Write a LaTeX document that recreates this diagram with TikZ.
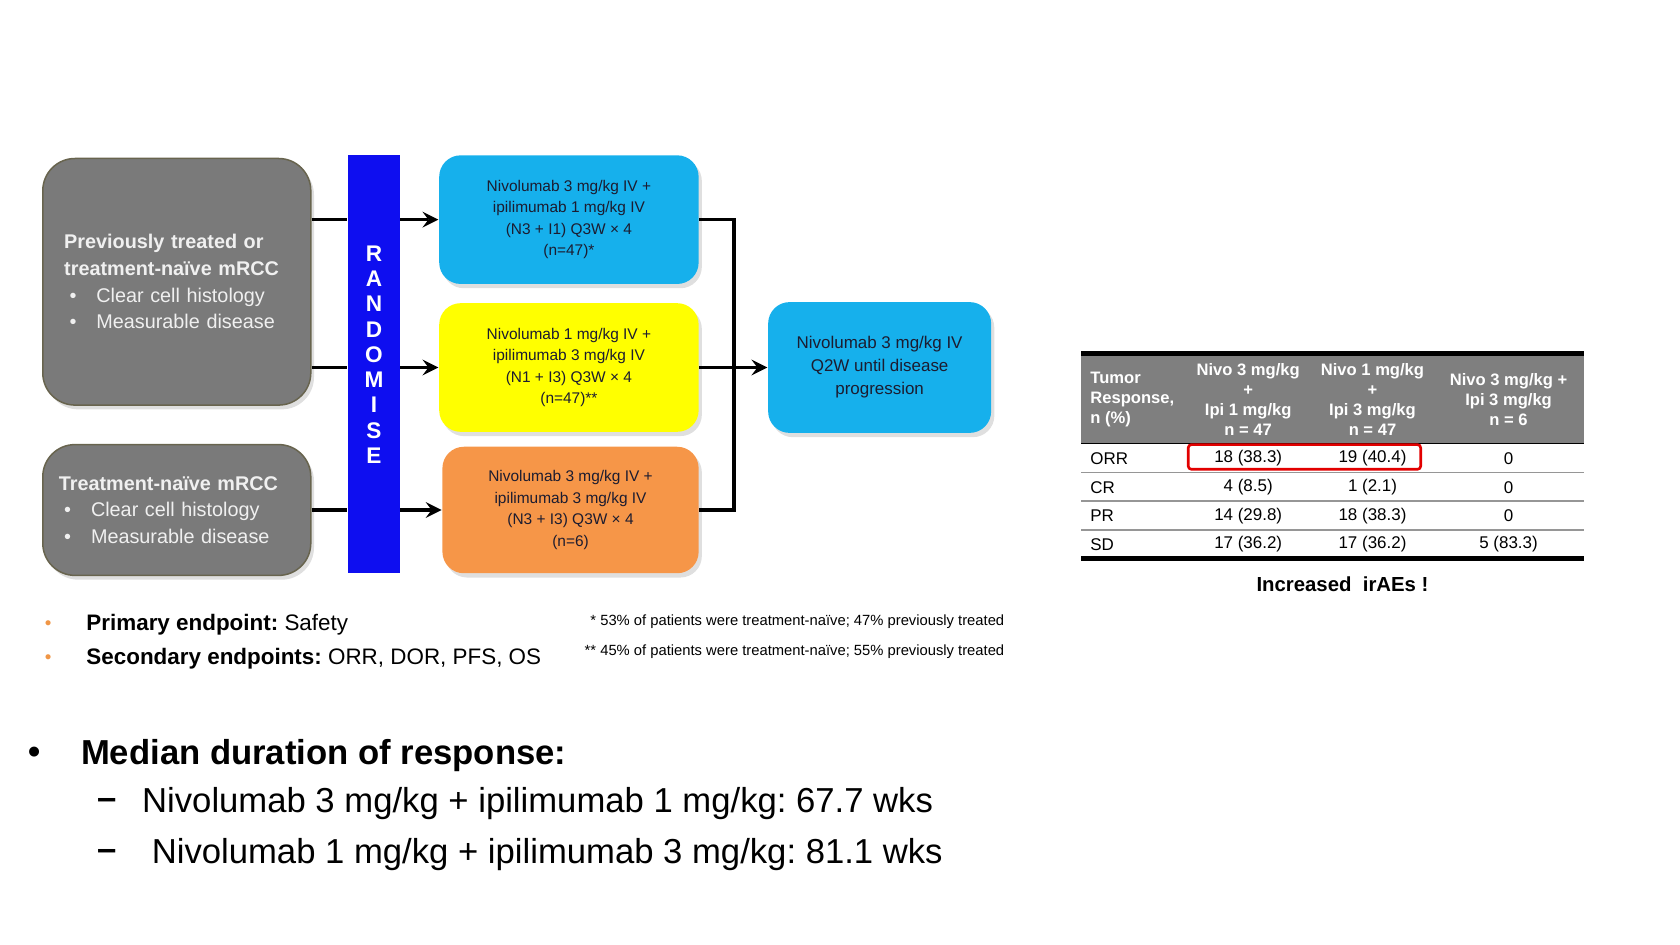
\documentclass[tikz,border=0pt]{standalone}
\usepackage{fontspec}
\setmainfont{Liberation Sans}
\usepackage{tikz}
\usetikzlibrary{arrows.meta,positioning,shadows}
\definecolor{boxgray}{RGB}{122,122,122}
\definecolor{boxedge}{RGB}{104,100,78}
\definecolor{boxtext}{RGB}{240,240,240}
\definecolor{randblue}{RGB}{14,14,240}
\definecolor{armblue}{RGB}{22,176,236}
\definecolor{armyellow}{RGB}{255,255,0}
\definecolor{armorange}{RGB}{246,150,72}
\definecolor{armtext}{RGB}{28,28,48}
\definecolor{hdrgray}{RGB}{127,127,127}
\definecolor{sepgray}{RGB}{150,150,150}
\definecolor{orrred}{RGB}{226,0,0}
\definecolor{bulorange}{RGB}{240,150,70}
\frenchspacing

\begin{document}
\begin{tikzpicture}[
		x=0.01cm, y=-0.01cm,
		patient/.style={rectangle, rounded corners=0.3cm, draw=boxedge, line width=0.4pt, fill=boxgray, text=boxtext, minimum width=2.5cm, align=left, inner sep=0pt, font=\fontsize{5.26}{7.1}\selectfont, drop shadow={shadow xshift=0.03cm, shadow yshift=-0.04cm, opacity=0.25}},
		arm/.style={rectangle, rounded corners=0.2cm, minimum width=2.42cm, minimum height=1.2cm, inner sep=0pt, align=center, text=armtext, font=\fontsize{4.1}{5.7}\selectfont, drop shadow={shadow xshift=0.03cm, shadow yshift=-0.04cm, opacity=0.25}},
		link/.style={line width=0.85pt},
		hdr/.style={text=white, inner sep=0pt, align=center, font=\bfseries\fontsize{4.4}{5.3}\selectfont},
		cell/.style={inner sep=0pt, font=\fontsize{4.5}{5}\selectfont},
		>=stealth
		]
	
		\useasboundingbox (0,0) rectangle (1568,882);
	
		% Patienten
		\node[patient, minimum height=2.3cm, text width=2.1cm] (pt1) at (165,263) {\textbf{Previously treated or}\\\textbf{treatment-naïve mRCC}\\\hspace*{0.05cm}\makebox[0.25cm][l]{\textbullet}Clear cell histology\\\hspace*{0.05cm}\makebox[0.25cm][l]{\textbullet}Measurable disease};
		\node[patient, minimum height=1.22cm, text width=2.2cm] (pt2) at (165,476) {\textbf{Treatment-naïve mRCC}\\\hspace*{0.05cm}\makebox[0.25cm][l]{\textbullet}Clear cell histology\\\hspace*{0.05cm}\makebox[0.25cm][l]{\textbullet}Measurable disease};
	
		% Randomisation
		\node[rectangle, fill=randblue, minimum width=0.48cm, minimum height=3.9cm, inner sep=0pt] (rnd) at (349,340) {};
		\node[text=white, align=center, inner sep=0pt, font=\bfseries\fontsize{6}{6.7}\selectfont] (rndlbl) at ([yshift=0.09cm]rnd.center) {R\\A\\N\\D\\O\\M\\I\\S\\E};
	
		% Arme
		\node[arm, fill=armblue] (armA) at (531,205) {Nivolumab 3 mg/kg IV +\\ipilimumab 1 mg/kg IV\\(N3 + I1) Q3W × 4\\(n=47)*};
		\node[arm, fill=armyellow] (armB) at (531,343) {Nivolumab 1 mg/kg IV +\\ipilimumab 3 mg/kg IV\\(N1 + I3) Q3W × 4\\(n=47)**};
		\node[arm, fill=armorange, minimum width=2.39cm, minimum height=1.18cm] (armC) at (532.5,476) {Nivolumab 3 mg/kg IV +\\ipilimumab 3 mg/kg IV\\(N3 + I3) Q3W × 4\\(n=6)};
		\node[arm, fill=armblue, minimum width=2.08cm, minimum height=1.22cm, font=\fontsize{4.5}{6.1}\selectfont] (maint) at (821,343) {Nivolumab 3 mg/kg IV\\Q2W until disease\\progression};
	
		% Pfeile
		\draw[link] (pt1.east |- armA.west) -- (rnd.west |- armA.west);
		\draw[link, ->] (rnd.east |- armA.west) -- (armA.west);
		\draw[link] (pt1.east |- armB.west) -- (rnd.west |- armB.west);
		\draw[link, ->] (rnd.east |- armB.west) -- (armB.west);
		\draw[link] (pt2.east |- armC.west) -- (rnd.west |- armC.west);
		\draw[link, ->] (rnd.east |- armC.west) -- (armC.west);
		\coordinate (join) at (685,343);
		\draw[link] (armA.east) -| (join) |- (armC.east);
		\draw[link, ->] (armB.east) -- (maint.west);
	
		% Endpunkte
		\node[text=bulorange, font=\fontsize{5}{6}\selectfont] (bul1) at (45,583) {•};
		\node[text=bulorange, font=\fontsize{5}{6}\selectfont] (bul2) at (45,615) {•};
		\node[anchor=west, inner sep=0pt, font=\fontsize{5.95}{7}\selectfont] (ep1) at (80,583) {\textbf{Primary endpoint:} Safety};
		\node[anchor=west, inner sep=0pt, font=\fontsize{5.95}{7}\selectfont] (ep2) at (80,615) {\textbf{Secondary endpoints:} ORR, DOR, PFS, OS};
		\node[anchor=east, inner sep=0pt, font=\fontsize{3.92}{4.5}\selectfont] (fn1) at (938,580) {* 53\% of patients were treatment-naïve; 47\% previously treated};
		\node[anchor=east, inner sep=0pt, font=\fontsize{3.92}{4.5}\selectfont] (fn2) at (938,608) {** 45\% of patients were treatment-naïve; 55\% previously treated};
	
		% Dauer des Ansprechens
		\node[font=\bfseries\fontsize{9.2}{11}\selectfont] (bul3) at (32,705) {•};
		\node[anchor=west, inner sep=0pt, font=\bfseries\fontsize{9.2}{11}\selectfont] (dor) at (75,705) {Median duration of response:};
		\node[font=\bfseries\fontsize{9.2}{11}\selectfont] (dash1) at (100,750) {–};
		\node[anchor=west, inner sep=0pt, font=\fontsize{9.2}{11}\selectfont] (dor1) at (132,750) {Nivolumab 3 mg/kg + ipilimumab 1 mg/kg: 67.7 wks};
		\node[font=\bfseries\fontsize{9.2}{11}\selectfont] (dash2) at (100,798) {–};
		\node[anchor=west, inner sep=0pt, font=\fontsize{9.2}{11}\selectfont] (dor2) at (141,798) {Nivolumab 1 mg/kg + ipilimumab 3 mg/kg: 81.1 wks};
	
		% Tabelle
		\fill[hdrgray] (1009,332) rectangle (1478,414);
		\draw[line width=1.2pt] (1009,330) -- (1478,330);
		\draw[line width=0.4pt] (1009,414) -- (1478,414);
		\foreach \y in {441,468,495}
			\draw[sepgray, line width=0.5pt] (1009,\y) -- (1478,\y);
		\draw[line width=1.4pt] (1009,521) -- (1478,521);
	
		\node[hdr, anchor=west, align=left] (hresp) at (1017,373) {Tumor\\Response,\\n (\%)};
		\node[hdr] (hA) at (1165,373) {Nivo 3 mg/kg\\+\\Ipi 1 mg/kg\\n = 47};
		\node[hdr] (hB) at (1281,373) {Nivo 1 mg/kg\\+\\Ipi 3 mg/kg\\n = 47};
		\node[hdr] (hC) at (1408,373) {Nivo 3 mg/kg +\\Ipi 3 mg/kg\\n = 6};
	
		\foreach \lab/\va/\vb/\vc [count=\i] in {ORR/18 (38.3)/19 (40.4)/0, CR/4 (8.5)/1 (2.1)/0, PR/14 (29.8)/18 (38.3)/0, SD/17 (36.2)/17 (36.2)/5 (83.3)} {
			\pgfmathsetmacro{\ry}{428+(\i-1)*26.7}
			\node[cell, anchor=west] (lab\i) at (1017,\ry) {\lab};
			\node[cell] (a\i) at (1165,\ry) {\va};
			\node[cell] (b\i) at (1281,\ry) {\vb};
			\node[cell] (c\i) at (1408,\ry) {\vc};
		}
		\draw[orrred, line width=0.7pt, rounded corners=0.03cm] (1109,415) rectangle (1326,438);
	
		\node[font=\bfseries\fontsize{5.4}{6}\selectfont] (irae) at (1253,545) {Increased\ \ irAEs !};
	\end{tikzpicture}
\end{document}
